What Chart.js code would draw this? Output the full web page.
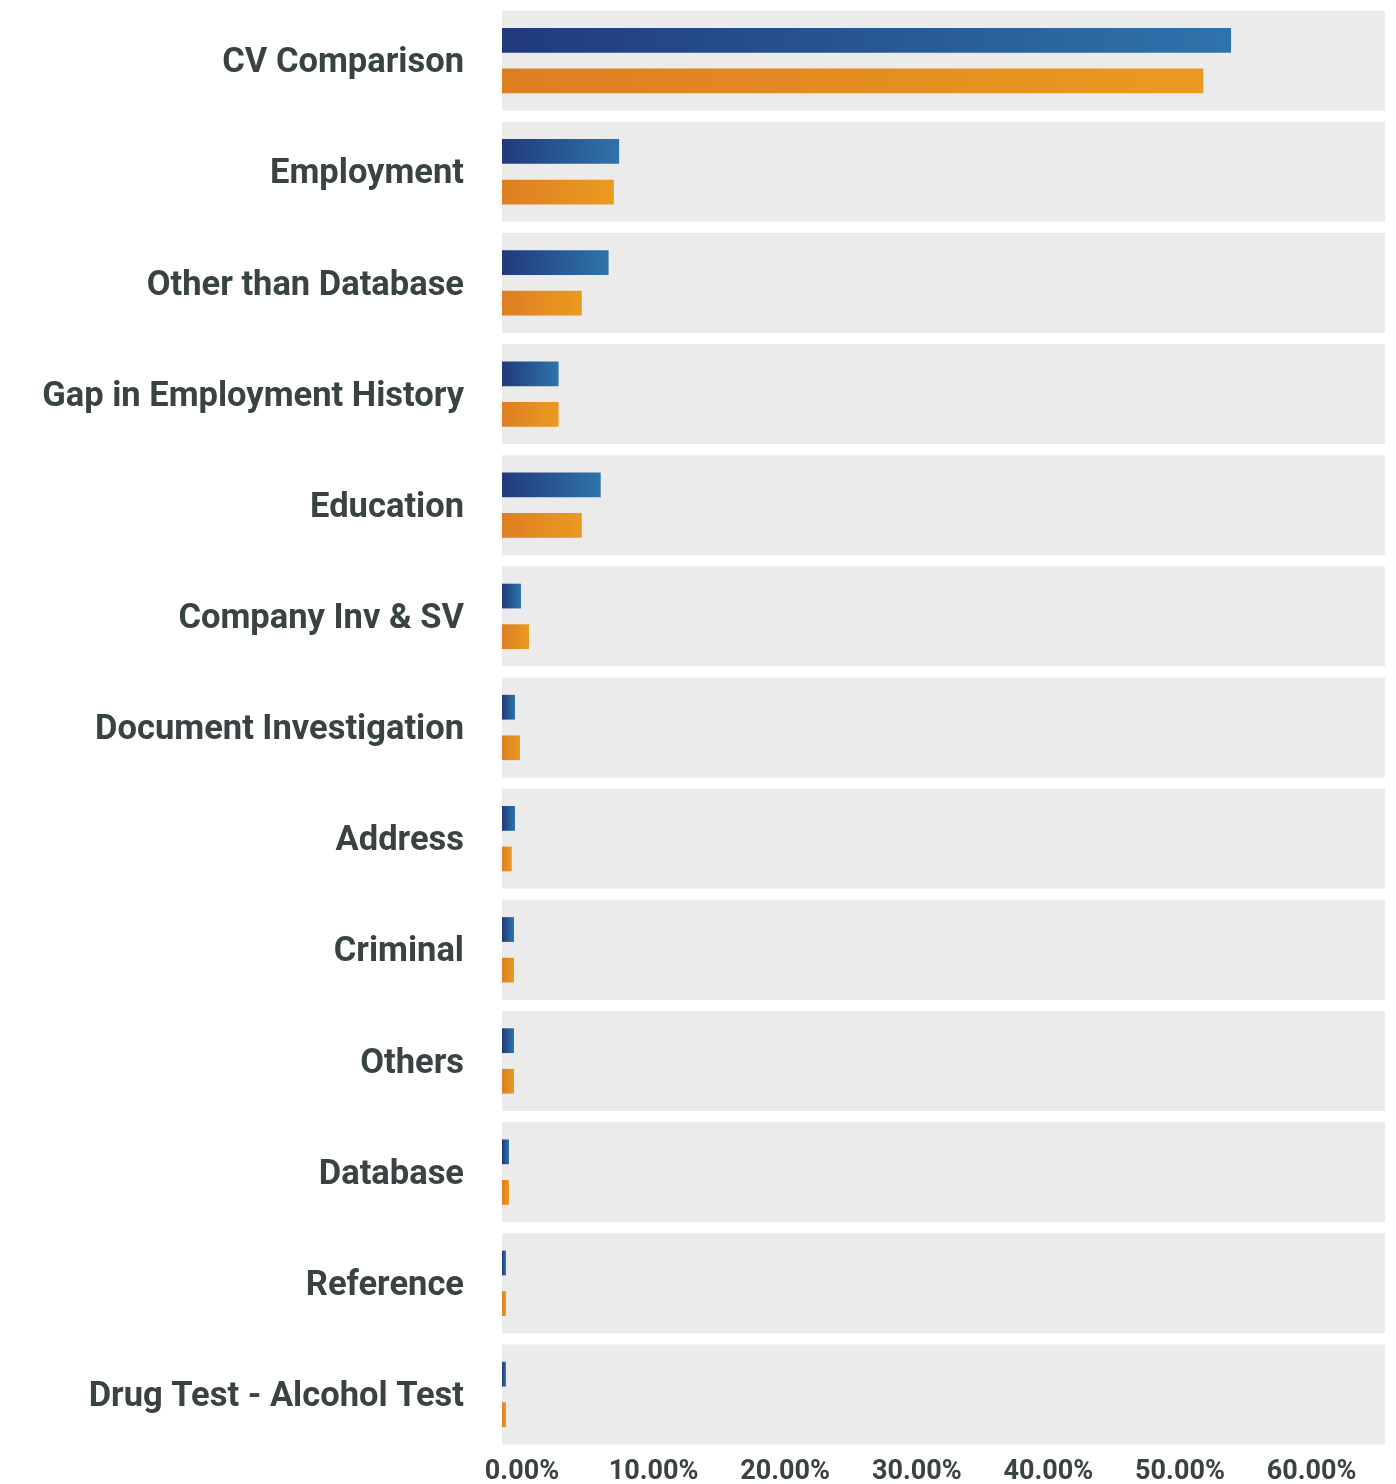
<!DOCTYPE html>
<html>
<head>
<meta charset="utf-8">
<script src="https://cdn.jsdelivr.net/npm/chart.js@4.4.1/dist/chart.umd.min.js"></script>
<style>
  html, body { margin: 0; padding: 0; background: #ffffff; }
  #wrap { position: relative; width: 1396px; height: 1484px; }
  canvas { display: block; }
</style>
</head>
<body>
<div id="wrap"><canvas id="c" width="1396" height="1484" style="width:1396px;height:1484px"></canvas></div>
<script>
const categories = [
  "CV Comparison", "Employment", "Other than Database", "Gap in Employment History",
  "Education", "Company Inv & SV", "Document Investigation", "Address",
  "Criminal", "Others", "Database", "Reference", "Drug Test - Alcohol Test"
];
const seriesBlue   = [55.4, 8.9, 8.1, 4.3, 7.5, 1.44, 0.99, 0.99, 0.91, 0.91, 0.53, 0.3, 0.3];
const seriesOrange = [53.3, 8.5, 6.06, 4.3, 6.06, 2.05, 1.37, 0.74, 0.91, 0.91, 0.53, 0.3, 0.3];
const xTickValues = [0, 10, 20, 30, 40, 50, 60];

const textColor = '#3a4343';

function gradFill(c0, c1) {
  return function(ctx) {
    const chart = ctx.chart;
    const area = chart.chartArea;
    if (!area || !chart.scales.x) return c0;
    const v = ctx.raw;
    const x0 = chart.scales.x.getPixelForValue(0);
    let x1 = chart.scales.x.getPixelForValue(v);
    if (!isFinite(x0) || !isFinite(x1)) return c0;
    if (x1 - x0 < 1) x1 = x0 + 1;
    const g = chart.ctx.createLinearGradient(x0, 0, x1, 0);
    g.addColorStop(0, c0);
    g.addColorStop(1, c1);
    return g;
  };
}

const bandPlugin = {
  id: 'bands',
  beforeDatasetsDraw(chart) {
    const { ctx, chartArea, scales } = chart;
    const y = scales.y;
    const step = Math.abs(y.getPixelForValue(1) - y.getPixelForValue(0));
    const half = step * 0.45;
    ctx.save();
    ctx.fillStyle = '#ebebeb';
    for (let i = 0; i < categories.length; i++) {
      const cy = y.getPixelForValue(i);
      ctx.fillRect(chartArea.left, cy - half, chartArea.right - chartArea.left, half * 2);
    }
    ctx.restore();
  }
};

new Chart(document.getElementById('c'), {
  type: 'bar',
  data: {
    labels: categories,
    datasets: [
      { label: 'Series 1', data: seriesBlue, backgroundColor: gradFill('#213a7b', '#2e74aa'), borderWidth: 0 },
      { label: 'Series 2', data: seriesOrange, backgroundColor: gradFill('#de7e23', '#ea9a20'), borderWidth: 0 }
    ]
  },
  options: {
    indexAxis: 'y',
    responsive: false,
    animation: false,
    devicePixelRatio: 1,
    categoryPercentage: 0.73,
    barPercentage: 0.61,
    layout: { padding: { left: 0, right: 11, top: 5, bottom: 0 } },
    plugins: { legend: { display: false }, tooltip: { enabled: false } },
    scales: {
      x: {
        min: 0,
        max: 67.1,
        grid: { display: false, drawTicks: false },
        border: { display: false },
        afterBuildTicks(scale) { scale.ticks = xTickValues.map(v => ({ value: v })); },
        afterFit(scale) { scale.height = 34; },
        ticks: {
          autoSkip: false,
          maxRotation: 0,
          padding: 6,
          labelOffset: 20,
          color: textColor,
          font: { family: 'Roboto', weight: 'bold', size: 27 },
          callback: (v) => Number(v).toFixed(2) + '%'
        }
      },
      y: {
        grid: { display: true, drawOnChartArea: false, drawTicks: true, tickLength: 38, color: 'rgba(0,0,0,0)' },
        border: { display: false },
        afterFit(scale) { scale.width = 502; scale.paddingTop = 0; scale.paddingBottom = 0; },
        ticks: {
          padding: 0,
          labelOffset: 3,
          color: textColor,
          font: { family: 'Roboto', weight: 'bold', size: 34.5 }
        }
      }
    }
  },
  plugins: [bandPlugin]
});
</script>
</body>
</html>
